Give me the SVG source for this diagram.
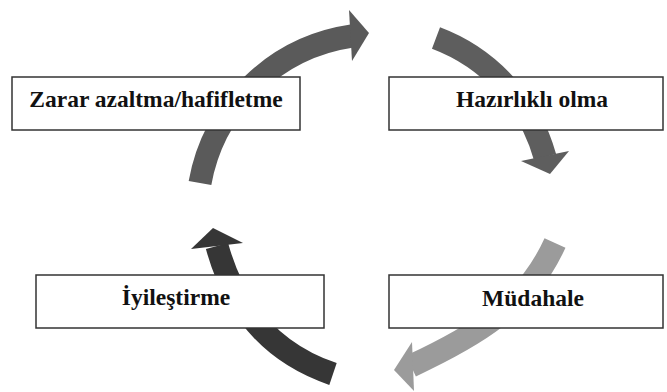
<svg xmlns="http://www.w3.org/2000/svg" width="667" height="392" viewBox="0 0 667 392">
<style>
.box{fill:#ffffff;stroke:#333333;stroke-width:1.5}
.lbl{font-family:"Liberation Serif","DejaVu Serif",serif;font-weight:bold;font-size:23.5px;fill:#111111;text-anchor:middle}
.body{fill:none;stroke-width:23;stroke-linecap:butt}
</style>
<rect width="667" height="392" fill="#ffffff"/>
<g id="connectors">
  <g id="arrow-mitigation-to-preparedness">
    <path class="body" stroke="#5a5a5a" d="M200,183 A181,181 0 0 1 352,36"/>
    <polygon fill="#5a5a5a" points="349,10 369,33 352,61"/>
  </g>
  <g id="arrow-preparedness-to-response">
    <path class="body" stroke="#5e5e5e" d="M436,38 A178,178 0 0 1 545,157"/>
    <polygon fill="#5e5e5e" points="521,161 550,174 569,151"/>
  </g>
  <g id="arrow-response-to-recovery">
    <path class="body" stroke="#9b9b9b" d="M555,243 C526,307 475,336 411,366"/>
    <polygon fill="#9b9b9b" points="412,342 394,370 414,391"/>
  </g>
  <g id="arrow-recovery-to-mitigation">
    <path class="body" stroke="#363636" d="M333,374 C271,353 234,308 217,246"/>
    <polygon fill="#363636" points="191,249 213,228 243,243"/>
  </g>
</g>
<g id="node-mitigation">
  <rect class="box" x="12" y="77" width="288" height="53"/>
  <text class="lbl" x="156" y="107">Zarar azaltma/hafifletme</text>
</g>
<g id="node-preparedness">
  <rect class="box" x="389" y="77" width="274" height="53"/>
  <text class="lbl" x="532" y="107">Hazırlıklı olma</text>
</g>
<g id="node-recovery">
  <rect class="box" x="36" y="275" width="288" height="53"/>
  <text class="lbl" x="176" y="305">İyileştirme</text>
</g>
<g id="node-response">
  <rect class="box" x="389" y="275" width="274" height="53"/>
  <text class="lbl" x="533" y="306">Müdahale</text>
</g>
</svg>
